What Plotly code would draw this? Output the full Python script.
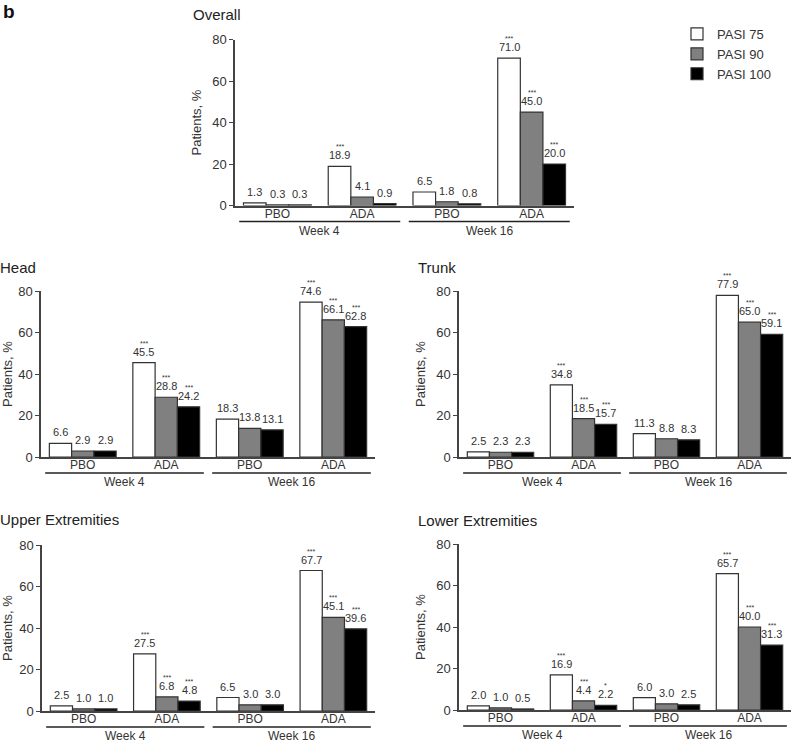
import plotly.graph_objects as go

# ---------------- data ----------------
series_names = ["PASI 75", "PASI 90", "PASI 100"]
group_labels = ["PBO", "ADA", "PBO", "ADA"]
week_labels = ["Week 4", "Week 16"]
panel_titles = ["Overall", "Head", "Trunk", "Upper Extremities", "Lower Extremities"]

overall_pasi75 = [1.3, 18.9, 6.5, 71.0]
overall_pasi90 = [0.3, 4.1, 1.8, 45.0]
overall_pasi100 = [0.3, 0.9, 0.8, 20.0]
overall_sig75 = ["", "***", "", "***"]
overall_sig90 = ["", "", "", "***"]
overall_sig100 = ["", "", "", "***"]

head_pasi75 = [6.6, 45.5, 18.3, 74.6]
head_pasi90 = [2.9, 28.8, 13.8, 66.1]
head_pasi100 = [2.9, 24.2, 13.1, 62.8]
head_sig75 = ["", "***", "", "***"]
head_sig90 = ["", "***", "", "***"]
head_sig100 = ["", "***", "", "***"]

trunk_pasi75 = [2.5, 34.8, 11.3, 77.9]
trunk_pasi90 = [2.3, 18.5, 8.8, 65.0]
trunk_pasi100 = [2.3, 15.7, 8.3, 59.1]
trunk_sig75 = ["", "***", "", "***"]
trunk_sig90 = ["", "***", "", "***"]
trunk_sig100 = ["", "***", "", "***"]

upper_pasi75 = [2.5, 27.5, 6.5, 67.7]
upper_pasi90 = [1.0, 6.8, 3.0, 45.1]
upper_pasi100 = [1.0, 4.8, 3.0, 39.6]
upper_sig75 = ["", "***", "", "***"]
upper_sig90 = ["", "***", "", "***"]
upper_sig100 = ["", "***", "", "***"]

lower_pasi75 = [2.0, 16.9, 6.0, 65.7]
lower_pasi90 = [1.0, 4.4, 3.0, 40.0]
lower_pasi100 = [0.5, 2.2, 2.5, 31.3]
lower_sig75 = ["", "***", "", "***"]
lower_sig90 = ["", "***", "", "***"]
lower_sig100 = ["", "*", "", "***"]

y_ticks = [0, 20, 40, 60, 80]

# ---------------- styling / layout ----------------
W, H = 793, 744
FONT = "Arial, Liberation Sans, Helvetica, sans-serif"
TXT = "#333333"
LINE = "#444444"
bar_colors = ["#ffffff", "#808080", "#000000"]
BARGAP = 0.2
XR = (-0.5, 3.5)

panels = [
    dict(title=panel_titles[0], vals=[overall_pasi75, overall_pasi90, overall_pasi100],
         sig=[overall_sig75, overall_sig90, overall_sig100], px=(235, 574), py=(39.5, 205.5),
         tpos=(191, 15)),
    dict(title=panel_titles[1], vals=[head_pasi75, head_pasi90, head_pasi100],
         sig=[head_sig75, head_sig90, head_sig100], px=(41, 375), py=(291, 457),
         tpos=(-2, 267)),
    dict(title=panel_titles[2], vals=[trunk_pasi75, trunk_pasi90, trunk_pasi100],
         sig=[trunk_sig75, trunk_sig90, trunk_sig100], px=(459, 791), py=(291, 457),
         tpos=(416, 267)),
    dict(title=panel_titles[3], vals=[upper_pasi75, upper_pasi90, upper_pasi100],
         sig=[upper_sig75, upper_sig90, upper_sig100], px=(42, 375), py=(545, 711),
         tpos=(-2, 519)),
    dict(title=panel_titles[4], vals=[lower_pasi75, lower_pasi90, lower_pasi100],
         sig=[lower_sig75, lower_sig90, lower_sig100], px=(459, 791), py=(544, 710),
         tpos=(416, 520)),
]

fig = go.Figure()
annotations = []
shapes = []
layout_axes = {}
cats = list(range(len(group_labels)))
bw = (1 - BARGAP) / len(series_names)

for p_i, p in enumerate(panels):
    n = "" if p_i == 0 else str(p_i + 1)
    xa, ya = "x" + n, "y" + n
    x0, x1 = p["px"]
    y0, y1 = p["py"]

    def to_paper_x(xd, x0=x0, x1=x1):
        return (x0 + (xd - XR[0]) / (XR[1] - XR[0]) * (x1 - x0)) / W

    for k, name in enumerate(series_names):
        fig.add_trace(go.Bar(
            x=cats, y=p["vals"][k], name=name, xaxis=xa, yaxis=ya,
            marker=dict(color=bar_colors[k], line=dict(color="#333333", width=1.2)),
            showlegend=(p_i == 0), legendgroup=name, hoverinfo="y",
        ))
        for i, v in enumerate(p["vals"][k]):
            xc = cats[i] + (k - 1) * bw
            annotations.append(dict(x=xc, y=v, xref=xa, yref=ya, text=f"{v:.1f}",
                                    showarrow=False, yanchor="bottom", yshift=4,
                                    borderpad=0,
                                    font=dict(size=11, color=TXT, family=FONT)))
            s = p["sig"][k][i]
            if s:
                annotations.append(dict(x=xc, y=v, xref=xa, yref=ya, text=s,
                                        showarrow=False, yanchor="bottom", yshift=15,
                                        borderpad=0,
                                        font=dict(size=7, color=TXT, family=FONT)))
    # week brackets
    yb = 1 - (y1 + 16) / H
    for w, wl in enumerate(week_labels):
        a, b = cats[2 * w] - 0.45, cats[2 * w + 1] + 0.45
        shapes.append(dict(type="line", xref="paper", yref="paper",
                           x0=to_paper_x(a), x1=to_paper_x(b), y0=yb, y1=yb,
                           line=dict(color="#222222", width=1.5)))
        annotations.append(dict(x=(a + b) / 2, y=0, xref=xa, yref=ya, text=wl,
                                showarrow=False, yanchor="middle", yshift=-25,
                                font=dict(size=12, color=TXT, family=FONT)))
    # panel title
    annotations.append(dict(x=p["tpos"][0] / W, y=1 - p["tpos"][1] / H, xref="paper",
                            yref="paper", text=p["title"], showarrow=False,
                            xanchor="left", yanchor="middle",
                            font=dict(size=15, color="#222222", family=FONT)))
    layout_axes["xaxis" + n] = dict(
        domain=[x0 / W, x1 / W], anchor=ya, range=list(XR), automargin=False,
        tickvals=cats, ticktext=group_labels, ticks="", ticklen=0, showline=True,
        ticklabelstandoff=-4,
        linecolor=LINE, linewidth=1.5, showgrid=False, zeroline=False,
        tickfont=dict(size=12, color=TXT, family=FONT), fixedrange=True)
    layout_axes["yaxis" + n] = dict(
        domain=[1 - y1 / H, 1 - y0 / H], anchor=xa, range=[0, 80], automargin=False,
        tickvals=y_ticks, ticks="outside", ticklen=4, tickwidth=1.2, tickcolor=LINE,
        showline=True, linecolor=LINE, linewidth=1.5, showgrid=False, zeroline=False,
        tickfont=dict(size=13, color=TXT, family=FONT),
        title=dict(text="Patients, %", standoff=8, font=dict(size=13, color=TXT, family=FONT)),
        fixedrange=True)

annotations.append(dict(x=1 / W, y=1 - 12 / H, xref="paper", yref="paper", text="<b>b</b>",
                        showarrow=False, xanchor="left", yanchor="middle",
                        font=dict(size=19, color="#111111", family=FONT)))

fig.update_layout(
    width=W, height=H, margin=dict(l=0, r=0, t=0, b=0),
    paper_bgcolor="white", plot_bgcolor="white",
    barmode="group", bargap=BARGAP, bargroupgap=0,
    font=dict(family=FONT, color=TXT),
    legend=dict(x=677 / W, y=1 - 19 / H, xanchor="left", yanchor="top",
                font=dict(size=13, color=TXT, family=FONT), tracegroupgap=0,
                bgcolor="rgba(0,0,0,0)"),
    annotations=annotations, shapes=shapes,
    **layout_axes,
)

fig.write_html("out.html", config={"displayModeBar": False},
               post_script="document.body.style.margin='0';")
